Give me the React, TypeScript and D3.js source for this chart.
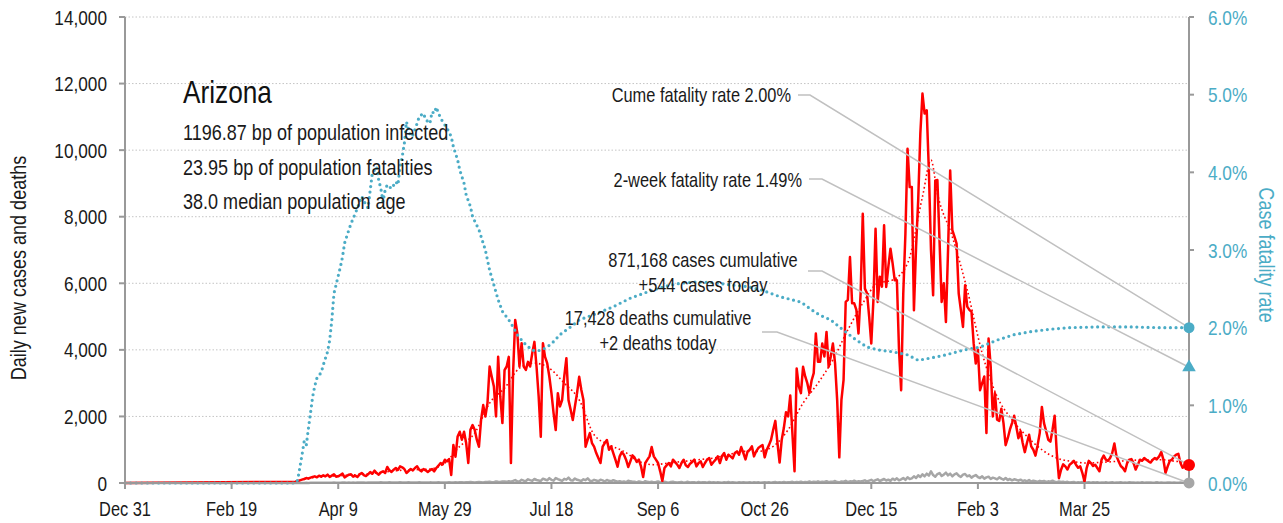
import React, { useEffect, useRef } from 'react';
import * as d3 from 'd3';

// day 0 = Dec 31 2019
const FIRST_DATE = new Date(2019, 11, 31);
const SERIES_START = 80; // day of first value in the daily arrays
const LAST_DAY = 499;

// daily new cases, rows of 10 days starting day 80
const dailyCases = [
  40, 60, 80, 100, 120, 150, 130, 160, 180, 200,
  170, 220, 190, 230, 200, 250, 180, 220, 260, 190,
  200, 240, 280, 170, 210, 250, 260, 190, 220, 180,
  260, 300, 240, 210, 260, 330, 280, 370, 300, 250,
  320, 350, 300, 480, 380, 330, 400, 450, 390, 500,
  470, 420, 300, 360, 420, 380, 450, 500, 400, 350,
  420, 380, 330, 380, 420, 350, 450, 520, 600, 560,
  700, 650, 720, 240, 1140, 790, 1400, 1540, 1300, 1540,
  1200, 600, 1600, 1740, 1600, 1300, 1090, 1900, 2340, 2000,
  2400, 3500, 3190, 2900, 2000, 3790, 2600, 1800, 3390, 3500,
  3790, 600, 3300, 4900, 4500, 3500, 4200, 3500, 3400, 3640,
  3500, 3900, 4240, 3500, 2600, 1390, 4200, 3790, 3600, 3200,
  2700, 2100, 1590, 2700, 2300, 2490, 3200, 3750, 2490, 2200,
  1890, 2300, 2700, 3190, 2800, 2490, 1090, 1300, 1500, 1200,
  1090, 900, 750, 600, 1090, 1200, 1290, 1000, 1100, 900,
  700, 490, 800, 930, 850, 700, 480, 650, 830, 760,
  630, 700, 500, 180, 600, 700, 800, 1080, 800, 700,
  600, 350, 60, 450, 530, 600, 500, 700, 630, 550,
  450, 600, 700, 530, 480, 580, 630, 700, 500, 600,
  650, 480, 600, 700, 750, 550, 630, 700, 800, 600,
  810, 900, 700, 850, 800, 740, 900, 950, 850, 1080,
  900, 710, 950, 1000, 1100, 800, 950, 1050, 1100, 1137,
  770, 1000, 1137, 1300, 1600, 1866, 1200, 614, 1300, 1658,
  2128, 2000, 2630, 1500, 353, 3440, 2900, 2700, 3490, 3200,
  3000, 2700, 3080, 3300, 4490, 3640, 3640, 4190, 3800, 4540,
  3490, 3800, 4190, 3600, 2490, 770, 2500, 3100, 5440, 5500,
  6790, 5400, 5400, 5200, 4490, 5700, 8090, 5840, 5700, 5000,
  4190, 5500, 7640, 5440, 6200, 5900, 7740, 5890, 6500, 7040,
  6600, 6090, 6090, 4000, 2790, 5700, 7490, 10040, 8890, 8890,
  5190, 7090, 8500, 10500, 11700, 11100, 11200, 9390, 7000, 5640,
  9090, 9100, 7290, 5440, 6000, 4840, 7000, 9390, 7600, 7400,
  7190, 5690, 5200, 4690, 5940, 5300, 5200, 5140, 4200, 3590,
  4000, 2790, 3000, 3200, 1500, 4340, 3500, 2000, 2700, 1900,
  1866, 2232, 1800, 1137, 1345, 1600, 1800, 2020, 1700, 1345,
  1554, 1200, 928, 1200, 1449, 1100, 1000, 823, 1137, 1500,
  2285, 1800, 1554, 1300, 1241, 1600, 2020, 900, 144, 400,
  562, 500, 405, 550, 600, 666, 550, 457, 500, 300,
  40, 450, 666, 600, 510, 550, 450, 353, 700, 823,
  700, 666, 750, 900, 1189, 800, 650, 510, 450, 353,
  600, 700, 718, 600, 405, 550, 700, 666, 750, 700,
  650, 614, 700, 750, 718, 800, 928, 700, 301, 500,
  666, 700, 800, 850, 876, 600, 457, 500, 562, 544,
];

// daily new deaths, same layout
const dailyDeaths = [
  1, 1, 2, 3, 2, 4, 3, 5, 6, 4,
  7, 5, 8, 6, 9, 7, 10, 8, 12, 9,
  11, 10, 14, 12, 9, 15, 11, 13, 10, 16,
  12, 14, 18, 11, 15, 13, 17, 12, 16, 14,
  19, 13, 17, 15, 20, 12, 18, 16, 14, 21,
  15, 17, 13, 19, 16, 14, 18, 15, 20, 13,
  17, 16, 12, 19, 15, 18, 14, 20, 16, 13,
  17, 15, 20, 18, 12, 22, 17, 25, 19, 14,
  24, 20, 28, 22, 16, 26, 30, 24, 18, 32,
  27, 38, 25, 22, 44, 36, 30, 48, 42, 35,
  55, 40, 62, 88, 50, 45, 95, 70, 58, 110,
  85, 65, 120, 90, 75, 60, 130, 105, 80, 145,
  95, 70, 150, 115, 90, 65, 125, 100, 160, 85,
  75, 135, 95, 80, 60, 110, 85, 140, 70, 60,
  95, 75, 55, 100, 80, 45, 90, 65, 50, 85,
  60, 40, 55, 30, 45, 25, 70, 50, 35, 40,
  20, 45, 30, 15, 55, 35, 25, 40, 20, 30,
  45, 25, 15, 35, 20, 10, 30, 40, 20, 15,
  25, 30, 10, 20, 35, 15, 25, 20, 10, 30,
  15, 20, 25, 10, 30, 15, 20, 12, 25, 18,
  10, 22, 15, 28, 12, 20, 18, 10, 25, 15,
  20, 12, 18, 25, 10, 20, 15, 22, 8, 18,
  20, 15, 25, 10, 20, 28, 12, 22, 18, 30,
  15, 25, 20, 35, 15, 28, 22, 40, 18, 30,
  25, 45, 20, 35, 28, 50, 22, 38, 30, 55,
  25, 40, 35, 60, 28, 20, 45, 38, 65, 30,
  50, 42, 70, 35, 55, 48, 60, 80, 45, 70,
  95, 50, 85, 110, 60, 90, 120, 75, 100, 65,
  130, 90, 140, 80, 110, 150, 95, 170, 120, 140,
  200, 150, 230, 180, 260, 200, 280, 220, 350, 240,
  190, 270, 300, 210, 250, 310, 230, 280, 200, 260,
  290, 220, 180, 250, 270, 200, 230, 160, 210, 240,
  180, 150, 200, 130, 170, 190, 120, 160, 140, 110,
  170, 130, 100, 150, 90, 120, 80, 110, 95, 70,
  100, 60, 80, 50, 90, 40, 70, 55, 35, 65,
  45, 60, 30, 50, 40, 70, 35, 25, 45, 30,
  40, 20, 35, 15, 25, 30, 10, 20, 15, 28,
  12, 18, 25, 10, 20, 15, 22, 8, 18, 12,
  25, 10, 15, 20, 8, 18, 12, 22, 10, 15,
  8, 20, 12, 18, 6, 15, 10, 22, 8, 14,
  12, 18, 6, 12, 20, 8, 15, 10, 5, 12,
  18, 8, 14, 6, 10, 12, 5, 9, 4, 2,
];

// 7-day average of cases, read weekly [day, value]
const casesAvg: [number, number][] = [
  [80, 50], [87, 150], [94, 200], [101, 220], [108, 250], [115, 280], [122, 330],
  [129, 380], [136, 400], [143, 420], [150, 600], [157, 1100], [164, 1500],
  [171, 2400], [178, 2850], [185, 3450], [192, 3600], [199, 3450], [206, 3000],
  [213, 2500], [220, 1450], [227, 1150], [234, 950], [241, 650], [248, 550],
  [255, 600], [262, 650], [269, 700], [276, 750], [283, 850], [290, 950],
  [297, 950], [304, 1100], [311, 1600], [318, 2400], [325, 3000], [332, 3700],
  [339, 4600], [346, 5400], [353, 6000], [360, 6100], [367, 6600], [374, 8600],
  [378, 9700], [381, 8700], [388, 7400], [395, 5800], [402, 3900], [409, 2600],
  [416, 1900], [423, 1400], [430, 1000], [437, 750], [444, 650], [451, 600],
  [458, 620], [465, 650], [472, 680], [479, 700], [486, 700], [493, 650], [499, 620],
];

// case fatality rate (cumulative deaths / cumulative cases) [day, rate]
const fatalityRate: [number, number][] = [
  [0, 0], [80, 0], [81, 0.0004], [83, 0.0036], [84, 0.0053], [85, 0.0048], [86, 0.007],
  [87, 0.009], [88, 0.0111], [89, 0.0125], [90, 0.0135], [91, 0.0139], [92, 0.0142], [93, 0.0152],
  [95, 0.0169], [96, 0.0184], [97, 0.021], [98, 0.0244], [101, 0.0278], [102, 0.0291], [103, 0.0309],
  [105, 0.0326], [106, 0.0334], [108, 0.0347], [109, 0.0354], [111, 0.0369], [113, 0.0358],
  [114, 0.0354], [115, 0.0377], [116, 0.0399], [118, 0.0407], [119, 0.039], [120, 0.0379],
  [121, 0.0362], [122, 0.0377], [123, 0.0384], [125, 0.0379], [127, 0.0388], [128, 0.0384],
  [129, 0.0407], [130, 0.042], [131, 0.0437], [132, 0.0465], [134, 0.0446], [135, 0.0448],
  [137, 0.0463], [138, 0.0472], [140, 0.0476], [141, 0.0468], [143, 0.0463], [144, 0.0478],
  [145, 0.0476], [146, 0.0484], [147, 0.0476], [149, 0.0465], [151, 0.0457], [153, 0.0446],
  [154, 0.0433], [156, 0.0416], [157, 0.0403], [159, 0.0386], [160, 0.0371], [162, 0.0356],
  [163, 0.0343], [166, 0.0326], [169, 0.03], [171, 0.0274], [173, 0.0255], [175, 0.0236],
  [177, 0.0221], [180, 0.021], [182, 0.0201], [184, 0.0191], [186, 0.0184], [188, 0.0178],
  [191, 0.0171], [193, 0.017], [195, 0.0171], [198, 0.0175], [201, 0.0182], [204, 0.0191],
  [207, 0.0197], [210, 0.0203], [213, 0.021], [217, 0.0214], [221, 0.0218], [229, 0.0227],
  [237, 0.0238], [245, 0.0246], [253, 0.0253], [260, 0.0257], [268, 0.0259], [276, 0.0258],
  [284, 0.0255], [292, 0.0253], [299, 0.0248], [307, 0.024], [317, 0.0233], [322, 0.0223],
  [326, 0.0216], [331, 0.021], [335, 0.0201], [342, 0.0186], [348, 0.0175], [354, 0.0171],
  [360, 0.0169], [367, 0.0165], [372, 0.0158], [378, 0.0161], [385, 0.0165], [393, 0.0171],
  [401, 0.0175], [409, 0.0184], [417, 0.0191], [425, 0.0195], [434, 0.0198], [443, 0.02],
  [457, 0.0201], [471, 0.0201], [485, 0.02], [499, 0.02],
];

const casesTicks = [0, 2000, 4000, 6000, 8000, 10000, 12000, 14000];
const rateTicks = [0, 0.01, 0.02, 0.03, 0.04, 0.05, 0.06];
const dateTickDays = [0, 50, 100, 150, 200, 250, 300, 350, 400, 450];

const stateName = 'Arizona';
const infoLines = [
  '1196.87 bp of population infected',
  '23.95 bp of population fatalities',
  '38.0 median population age',
];
const cumeRate = 0.02;
const twoWeekRate = 0.0149;
const casesToday = 544;
const deathsToday = 2;
const annotations = {
  cume: 'Cume fatality rate 2.00%',
  twoWeek: '2-week fatality rate 1.49%',
  cases: ['871,168 cases cumulative', '+544 cases today'],
  deaths: ['17,428 deaths cumulative', '+2 deaths today'],
};

// narrow grotesque look: Liberation Sans squeezed horizontally
const FONT = '"Liberation Sans", Arial, sans-serif';
const SQUEEZE = 0.82;
const BLUE = '#4bacc6';
const RED = '#ff0000';
const GRAY = '#a6a6a6';
const AXIS = '#999999';
const INK = '#1a1a1a';

const App = () => {
  const svgRef = useRef<SVGSVGElement>(null);

  useEffect(() => {
    const svg = d3.select(svgRef.current);
    svg.selectAll('*').remove();
    svg.style('font-family', FONT);

    const left = 125, right = 1189, top = 17, bottom = 483;

    const x = d3.scaleLinear().domain([0, LAST_DAY]).range([left, right]);
    const y = d3.scaleLinear().domain([0, 14000]).range([bottom, top]);
    const yRate = d3.scaleLinear().domain([0, 0.06]).range([bottom, top]);
    const fmtDate = d3.timeFormat('%b %-d');

    const label = (
      tx: number, ty: number, t: string, size: number,
      anchor = 'start', fill = INK, rotate = 0, dy = '0'
    ) =>
      svg.append('text')
        .attr('transform', `translate(${tx},${ty}) rotate(${rotate}) scale(${SQUEEZE},1)`)
        .attr('dy', dy)
        .attr('text-anchor', anchor)
        .attr('font-size', size)
        .attr('fill', fill)
        .text(t);

    // gridlines
    svg.append('g')
      .selectAll('line')
      .data(casesTicks.slice(1))
      .enter()
      .append('line')
      .attr('x1', left).attr('x2', right)
      .attr('y1', d => y(d)).attr('y2', d => y(d))
      .attr('stroke', '#c4c4c4')
      .attr('stroke-width', 1)
      .attr('stroke-dasharray', '1.5,2');

    const toPoints = (arr: number[]) =>
      [{ day: 0, v: 0 }].concat(arr.map((v, i) => ({ day: SERIES_START + i, v })));

    const line = d3.line<{ day: number; v: number }>()
      .x(d => x(d.day))
      .y(d => y(d.v));

    // deaths
    svg.append('path')
      .attr('d', line(toPoints(dailyDeaths)))
      .attr('fill', 'none')
      .attr('stroke', GRAY)
      .attr('stroke-width', 2.5)
      .attr('stroke-linejoin', 'round');

    // cases
    svg.append('path')
      .attr('d', line(toPoints(dailyCases)))
      .attr('fill', 'none')
      .attr('stroke', RED)
      .attr('stroke-width', 2.5)
      .attr('stroke-linejoin', 'round');

    // cases average
    svg.append('path')
      .attr('d', d3.line<[number, number]>().x(d => x(d[0])).y(d => y(d[1])).curve(d3.curveMonotoneX)(casesAvg))
      .attr('fill', 'none')
      .attr('stroke', RED)
      .attr('stroke-width', 1.6)
      .attr('stroke-dasharray', '1.6,2.6');

    // fatality rate
    svg.append('path')
      .attr('d', d3.line<[number, number]>().x(d => x(d[0])).y(d => yRate(d[1]))(fatalityRate))
      .attr('fill', 'none')
      .attr('stroke', BLUE)
      .attr('stroke-width', 3.2)
      .attr('stroke-linecap', 'round')
      .attr('stroke-dasharray', '0,5.6');

    // axes
    const axisG = svg.append('g');
    axisG.append('line').attr('x1', left).attr('x2', left).attr('y1', top).attr('y2', bottom);
    axisG.append('line').attr('x1', right).attr('x2', right).attr('y1', top).attr('y2', bottom);
    axisG.append('line').attr('x1', left).attr('x2', right).attr('y1', bottom).attr('y2', bottom);
    casesTicks.forEach(t => {
      axisG.append('line').attr('x1', left - 6).attr('x2', left).attr('y1', y(t)).attr('y2', y(t));
    });
    rateTicks.forEach(t => {
      axisG.append('line').attr('x1', right).attr('x2', right + 5).attr('y1', yRate(t)).attr('y2', yRate(t));
    });
    dateTickDays.forEach(t => {
      axisG.append('line').attr('x1', x(t)).attr('x2', x(t)).attr('y1', bottom).attr('y2', bottom + 6);
    });
    axisG.selectAll('line').attr('stroke', AXIS).attr('stroke-width', 2);

    casesTicks.forEach(t => label(left - 18, y(t), d3.format(',')(t), 21, 'end', INK, 0, '0.36em'));
    rateTicks.forEach(t => label(right + 19, yRate(t), d3.format('.1%')(t), 21, 'start', BLUE, 0, '0.36em'));
    dateTickDays.forEach(t => label(x(t), 516, fmtDate(d3.timeDay.offset(FIRST_DATE, t)), 20, 'middle'));

    label(26, 268, 'Daily new cases and deaths', 22, 'middle', INK, -90);
    label(1259, 255, 'Case fatality rate', 22, 'middle', BLUE, 90);

    // info block
    label(183, 103, stateName, 32, 'start', '#111');
    infoLines.forEach((t, i) => label(183, 140 + i * 34.5, t, 22));

    // annotation connectors
    const endX = x(LAST_DAY);
    const connectors = [
      { from: [798, 95], bend: 810, to: yRate(cumeRate) },
      { from: [809, 179], bend: 822, to: yRate(twoWeekRate) },
      { from: [808, 271], bend: 822, to: y(casesToday) },
      { from: [762, 332], bend: 777, to: y(deathsToday) },
    ];
    connectors.forEach(c => {
      svg.append('polyline')
        .attr('points', `${c.from[0]},${c.from[1]} ${c.bend},${c.from[1]} ${endX},${c.to}`)
        .attr('fill', 'none')
        .attr('stroke', '#c0c0c0')
        .attr('stroke-width', 1.5);
    });

    label(791, 102, annotations.cume, 20, 'end');
    label(802, 187, annotations.twoWeek, 20, 'end');
    label(703, 267, annotations.cases[0], 20, 'middle');
    label(703, 292, annotations.cases[1], 20, 'middle');
    label(658, 325, annotations.deaths[0], 20, 'middle');
    label(658, 350, annotations.deaths[1], 20, 'middle');

    // end markers
    svg.append('circle').attr('cx', endX).attr('cy', y(deathsToday)).attr('r', 5.5).attr('fill', GRAY);
    svg.append('circle').attr('cx', endX).attr('cy', y(casesToday)).attr('r', 6).attr('fill', RED);
    svg.append('path')
      .attr('d', d3.symbol().type(d3.symbolTriangle).size(80)())
      .attr('transform', `translate(${endX},${yRate(twoWeekRate)})`)
      .attr('fill', BLUE);
    svg.append('circle').attr('cx', endX).attr('cy', yRate(cumeRate)).attr('r', 5.5).attr('fill', BLUE);
  }, []);

  return (
    <div style={{ position: 'absolute', left: 0, top: 0 }}>
      <svg ref={svgRef} width={1283} height={523} style={{ display: 'block', background: '#fff' }} />
    </div>
  );
};

export default App;
